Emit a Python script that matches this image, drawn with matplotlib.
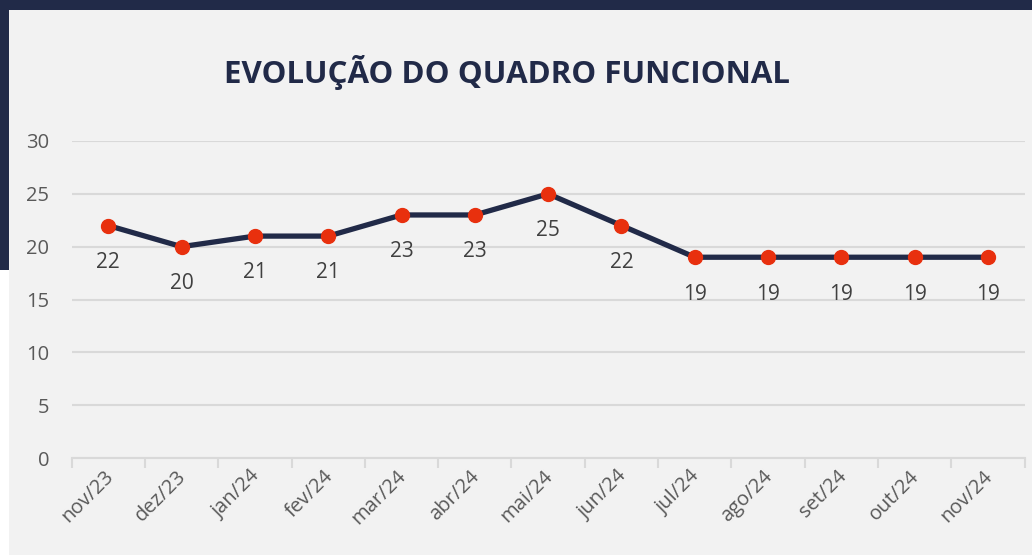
import matplotlib.pyplot as plt
from matplotlib.patches import Rectangle

meses = ["nov/23", "dez/23", "jan/24", "fev/24", "mar/24", "abr/24", "mai/24",
         "jun/24", "jul/24", "ago/24", "set/24", "out/24", "nov/24"]
funcionarios = [22, 20, 21, 21, 23, 23, 25, 22, 19, 19, 19, 19, 19]
y_ticks = [0, 5, 10, 15, 20, 25, 30]

navy = "#212a48"
cinza_texto = "#595959"
fundo = "#f2f2f2"

W, H = 1032, 555
fig = plt.figure(figsize=(W / 100, H / 100), dpi=100)
fig.patch.set_facecolor("white")

# moldura: fundo cinza, faixa azul no topo e na esquerda
fig.patches.append(Rectangle((9 / W, 0), 1, 1, transform=fig.transFigure,
                             facecolor=fundo, edgecolor="none", zorder=0))
fig.patches.append(Rectangle((0, 1 - 10 / H), 1, 10 / H, transform=fig.transFigure,
                             facecolor=navy, edgecolor="none", zorder=1))
fig.patches.append(Rectangle((0, 1 - 270 / H), 9 / W, 270 / H, transform=fig.transFigure,
                             facecolor=navy, edgecolor="none", zorder=1))

ax = fig.add_axes([71.6 / W, 1 - 458 / H, (1024.7 - 71.6) / W, (458 - 141) / H])
ax.set_facecolor("none")
ax.set_zorder(5)

x = list(range(len(meses)))
ax.plot(x, funcionarios, color=navy, linewidth=3.8, zorder=3, solid_joinstyle="round")
ax.plot(x, funcionarios, linestyle="none", marker="o", markersize=10,
        color="#e8300e", zorder=4)

for xi, v in zip(x, funcionarios):
    ax.annotate(str(v), (xi, v), xytext=(0, -19), textcoords="offset points",
                ha="center", va="top", fontsize=15, color="#404040",
                family="Open Sans")

ax.set_xlim(-0.5, len(meses) - 0.5)
ax.set_ylim(0, 30)
ax.set_yticks(y_ticks)
ax.set_xticks([i - 0.5 for i in range(len(meses) + 1)], minor=False)
ax.set_xticklabels([])
# rótulos levemente à esquerda do centro da categoria, como no Excel
ax.set_xticks([i - 0.07 for i in x], minor=True)
ax.set_xticklabels(meses, minor=True, rotation=45, ha="right", rotation_mode="anchor",
                   fontsize=14.5, color=cinza_texto, family="Open Sans")
ax.tick_params(axis="x", which="minor", length=0, pad=6)
ax.tick_params(axis="x", which="major", length=7, color="#d9d9d9", width=1.5)
ax.tick_params(axis="y", length=0, pad=16, labelsize=14.5, labelcolor=cinza_texto)
for lbl in ax.get_yticklabels():
    lbl.set_family("Open Sans")

ax.grid(axis="y", color="#d9d9d9", linewidth=1.5)
ax.set_axisbelow(True)
for lado in ["top", "right", "left"]:
    ax.spines[lado].set_visible(False)
ax.spines["bottom"].set_color("#d9d9d9")
ax.spines["bottom"].set_linewidth(1.5)

fig.text(507 / W, 1 - 72 / H, "EVOLUÇÃO DO QUADRO FUNCIONAL", ha="center", va="center",
         fontsize=22.5, fontweight="bold", color=navy, family="Open Sans")

fig.savefig("out.png", dpi=100, facecolor=fig.get_facecolor())
